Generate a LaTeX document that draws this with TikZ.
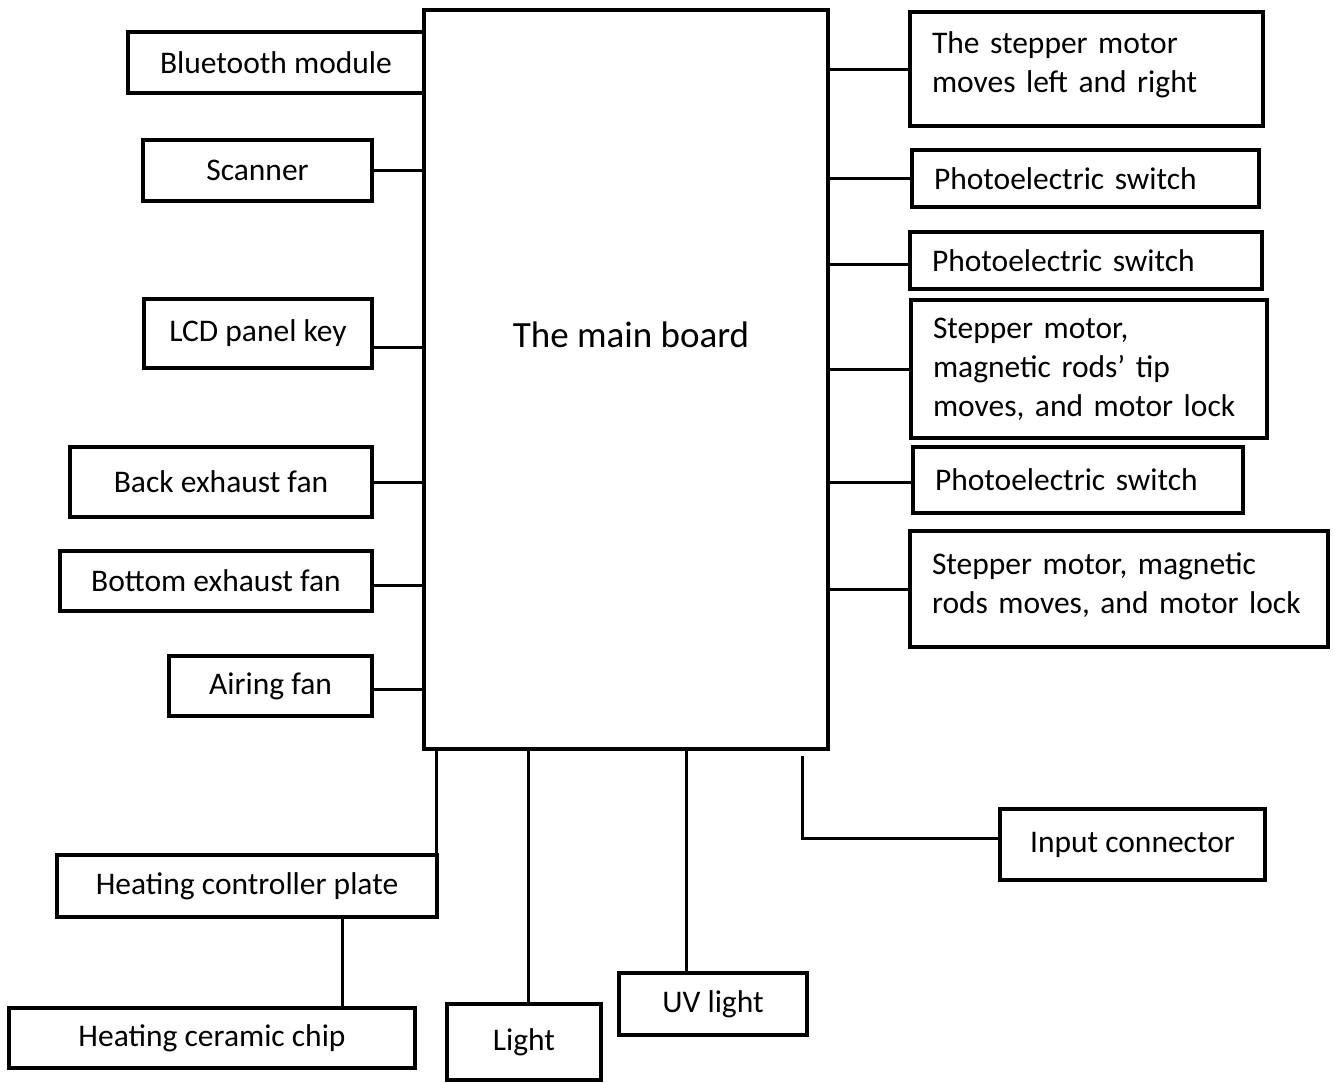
\documentclass[tikz,border=0pt]{standalone}
\usepackage{fontspec}
\setmainfont{Carlito}
\begin{document}
\begin{tikzpicture}[x=1pt,y=-1pt,
  box/.style={draw,line width=3.2pt,inner sep=0pt,align=center,font=\fontsize{31.5}{39}\selectfont},
  sidebox/.style={box,align=left,inner xsep=22pt},
  wire/.style={line width=3pt}]
\useasboundingbox (0,0) rectangle (1335,1082);

\node[box,minimum width=404,minimum height=739] (mb) at (626,379.5) {};
\node[font=\fontsize{37}{44}\selectfont] (mbt) at (631,335) {The main board};

% left side
\node[box,minimum width=296,minimum height=61] (bt) at (276,62.5) {Bluetooth module};
\node[box,minimum width=229,minimum height=61] (sc) at (257.5,170.5) {Scanner};
\node[box,minimum width=228,minimum height=69] (lcd) at (258,333.5) {LCD panel key};
\node[box,minimum width=302,minimum height=70] (back) at (221,482) {Back exhaust fan};
\node[box,minimum width=312,minimum height=60] (bot) at (216,581) {Bottom exhaust fan};
\node[box,minimum width=203,minimum height=60] (air) at (270.5,686) {Airing fan};

\draw[wire] (sc.east) -- (sc.east -| mb.west);
\draw[wire] ([yshift=-13.5pt]lcd.east) -- ([yshift=-13.5pt]lcd.east -| mb.west);
\draw[wire] (back.east) -- (back.east -| mb.west);
\draw[wire] ([yshift=-4pt]bot.east) -- ([yshift=-4pt]bot.east -| mb.west);
\draw[wire] ([yshift=-3pt]air.east) -- ([yshift=-3pt]air.east -| mb.west);

% right side
\node[sidebox,text width=309,minimum height=114] (r1) at (1086.5,69) {The stepper motor\\moves left and right\vspace{8pt}};
\node[sidebox,text width=303,minimum height=57] (r2) at (1085.5,178.5) {Photoelectric switch};
\node[sidebox,text width=308,minimum height=57] (r3) at (1086,260.5) {Photoelectric switch};
\node[sidebox,text width=312,minimum height=138] (r4) at (1089,369) {Stepper motor,\\magnetic rods’ tip\\moves, and motor lock};
\node[sidebox,text width=286,minimum height=66] (r5) at (1078,480) {Photoelectric switch};
\node[sidebox,text width=374,minimum height=116] (r6) at (1119,589) {Stepper motor, magnetic\\rods moves, and motor lock\vspace{8pt}};

\draw[wire] (mb.east |- r1.west) -- (r1.west);
\draw[wire] (mb.east |- r2.west) -- (r2.west);
\draw[wire] ([yshift=-3.5pt]r3.west -| mb.east) -- ([yshift=-3.5pt]r3.west);
\draw[wire] (mb.east |- r4.west) -- (r4.west);
\draw[wire] ([yshift=-2pt]r5.west -| mb.east) -- ([yshift=-2pt]r5.west);
\draw[wire] (mb.east |- r6.west) -- (r6.west);

% bottom
\node[box,minimum width=380,minimum height=62] (hc) at (247,886) {Heating controller plate};
\node[box,minimum width=406,minimum height=60] (hcc) at (212,1038) {Heating ceramic chip};
\node[box,minimum width=154,minimum height=76] (li) at (524,1042) {Light};
\node[box,minimum width=188,minimum height=62] (uv) at (713,1004) {UV light};
\node[box,minimum width=265,minimum height=71] (ic) at (1132.5,844.5) {Input connector};

\draw[wire] ([xshift=-2pt]hc.north east) -- ([xshift=-2pt]hc.north east |- mb.south);
\draw[wire] ([xshift=130pt]hcc.north) -- ([xshift=130pt]hcc.north |- hc.south);
\draw[wire] ([xshift=4pt]li.north) -- ([xshift=4pt]li.north |- mb.south);
\draw[wire] ([xshift=-27pt]uv.north) -- ([xshift=-27pt]uv.north |- mb.south);
\draw[wire] ([yshift=6.5pt]ic.west) -| ([xshift=-27pt,yshift=-5pt]mb.south east);
\end{tikzpicture}
\end{document}
